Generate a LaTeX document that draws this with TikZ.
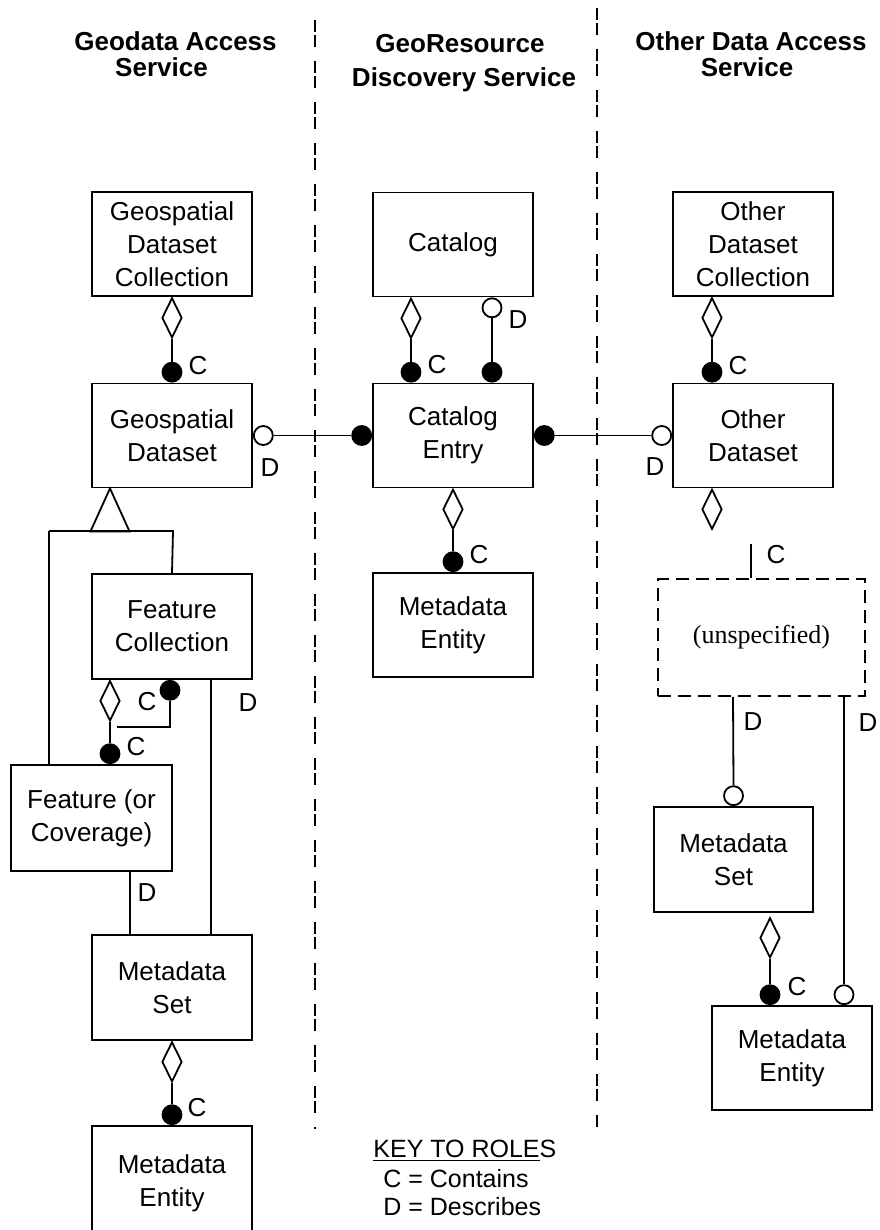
\documentclass[tikz,border=0pt]{standalone}
\usepackage{fontspec}
\setmainfont{Liberation Sans}
\newfontfamily\serifun{Liberation Serif}
\usetikzlibrary{shapes.geometric,calc}
\begin{document}
\begin{tikzpicture}[x=0.5pt,y=-0.5pt,
  every node/.style={font=\fontsize{13}{16.5}\selectfont},
  box/.style={draw,line width=0.9pt,rectangle,minimum width=80pt,minimum height=52pt,align=center,inner sep=0pt},
  dia/.style={draw,line width=0.9pt,diamond,minimum width=10pt,minimum height=20pt,inner sep=0pt,fill=white},
  fdot/.style={circle,fill=black,draw=black,line width=0.9pt,minimum size=9.5pt,inner sep=0pt},
  odot/.style={circle,fill=white,draw=black,line width=0.9pt,minimum size=9.5pt,inner sep=0pt},
  lab/.style={inner sep=0pt},
  hdr/.style={font=\bfseries\fontsize{13}{13}\selectfont,anchor=base,inner sep=0pt},
  keytxt/.style={font=\fontsize{12.5}{15}\selectfont,anchor=base west,inner sep=0pt},
  sep/.style={line width=0.9pt,dash pattern=on 6pt off 1.5pt on 6pt off 7pt},
  conn/.style={line width=0.9pt}
]
\useasboundingbox (0,0) rectangle (879,1230);
\clip (0,0) rectangle (879,1230);

% separators
\coordinate (s1t) at (315,20);
\coordinate (s1b) at (315,1129);
\coordinate (s2t) at (597,8);
\coordinate (s2b) at (597,1129);
\draw[sep] (s1t) -- (s1b);
\draw[sep] (s2t) -- (s2b);

% headers
\node[hdr] (h1a) at (175.5,51) {Geodata Access};
\node[hdr] (h1b) at (161.5,77) {Service};
\node[hdr] (h2a) at (460,53) {GeoResource};
\node[hdr] (h2b) at (464,87) {Discovery Service};
\node[hdr] (h3a) at (751,51) {Other Data Access};
\node[hdr] (h3b) at (747,77) {Service};

% boxes left
\node[box] (gdc) at (172,244) {Geospatial\\Dataset\\Collection};
\node[box] (gd) at (172,435.5) {Geospatial\\Dataset};
\node[box,minimum height=52.5pt] (fc) at (172,626.5) {Feature\\Collection};
\node[box,minimum width=80.5pt,minimum height=53pt] (feat) at (91.5,818) {Feature (or\\Coverage)};
\node[box,minimum height=52.5pt] (ms1) at (172,987.5) {Metadata\\Set};
\node[box,minimum height=57pt] (me1) at (172,1183) {Metadata\\Entity};

% boxes center
\node[box] (cat) at (453,244.5) {Catalog};
\node[box] (ce) at (453,435.5) {Catalog\\Entry};
\node[box] (me2) at (453,625) {Metadata\\Entity};

% boxes right
\node[box] (odc) at (753,244) {Other\\Dataset\\Collection};
\node[box] (od) at (753,435.5) {Other\\Dataset};
\node[box,dash pattern=on 6.5pt off 3.5pt,minimum width=103.5pt,minimum height=58.5pt,font=\serifun\fontsize{13}{16}\selectfont] (unsp) at (761.5,637.5) {(unspecified)};
\node[box,minimum width=79.5pt,minimum height=52.5pt] (ms3) at (733.5,859.5) {Metadata\\Set};
\node[box] (me3) at (792,1058) {Metadata\\Entity};

% GDC -> GD
\node[dia,anchor=north] (d1) at (gdc.south) {};
\node[fdot,anchor=south] (f1) at (gd.north) {};
\draw[conn] (d1.south) -- (f1.north);
\node[lab] (l1) at (198,366) {C};

% GD -> CE
\node[odot,anchor=west] (o1) at (gd.east) {};
\node[fdot,anchor=east] (f2) at (ce.west) {};
\draw[conn] (o1.east) -- (f2.west);
\node[lab] (l2) at (270,468) {D};

% generalization
\coordinate (tA) at ($(gd.south)+(-62,0)$);
\coordinate (tL) at ($(tA)+(-19.5,43)$);
\coordinate (tR) at ($(tA)+(19.5,43)$);
\coordinate (gL) at (49,531);
\coordinate (gR) at (173,531);
\draw[conn] (tA) -- (tL) -- (tR) -- cycle;
\draw[conn] (gL) -- (gR) -- (fc.north);
\draw[conn] (gL) -- (gL |- feat.north);

% FC -> Feature
\node[dia,anchor=north] (d2) at ($(fc.south)+(-62,0)$) {};
\node[fdot,anchor=south] (f3) at ($(feat.north)+(18.5,0)$) {};
\draw[conn] (d2.south) -- (f3.north);
\node[lab] (l3) at (136,747) {C};

% FC extra C
\node[fdot,anchor=north] (f4) at ($(fc.south)+(-2,0)$) {};
\coordinate (k1) at ($(f4.south)+(0,26)$);
\coordinate (k2) at ($(k1)+(-53,0)$);
\draw[conn] (f4.south) -- (k1) -- (k2);
\node[lab] (l4) at (147,702) {C};

% FC -> MS1
\draw[conn] ($(fc.south)+(39,0)$) -- ($(ms1.north)+(39,0)$);
\node[lab] (l5) at (248,703) {D};

% Feature -> MS1
\draw[conn] ($(feat.south)+(38.5,0)$) -- ($(ms1.north)+(-42,0)$);
\node[lab] (l6) at (147,893) {D};

% MS1 -> ME1
\node[dia,anchor=north] (d3) at (ms1.south) {};
\node[fdot,anchor=south] (f5) at (me1.north) {};
\draw[conn] (d3.south) -- (f5.north);
\node[lab] (l7) at (197,1108) {C};

% Catalog -> CE
\node[dia,anchor=north] (d4) at ($(cat.south)+(-42,0)$) {};
\node[fdot,anchor=south] (f6) at ($(ce.north)+(-42,0)$) {};
\draw[conn] (d4.south) -- (f6.north);
\node[lab] (l8) at (437,365) {C};
\node[odot,anchor=north] (o2) at ($(cat.south)+(39,0)$) {};
\node[fdot,anchor=south] (f7) at ($(ce.north)+(39,0)$) {};
\draw[conn] (o2.south) -- (f7.north);
\node[lab] (l9) at (518,320) {D};

% CE -> OD
\node[fdot,anchor=west] (f8) at (ce.east) {};
\node[odot,anchor=east] (o3) at (od.west) {};
\draw[conn] (f8.east) -- (o3.west);
\node[lab] (l10) at (655,467) {D};

% CE -> ME2
\node[dia,anchor=north] (d5) at (ce.south) {};
\node[fdot,anchor=south] (f9) at (me2.north) {};
\draw[conn] (d5.south) -- (f9.north);
\node[lab] (l11) at (479,555) {C};

% ODC -> OD
\node[dia,anchor=north] (d6) at ($(odc.south)+(-41,0)$) {};
\node[fdot,anchor=south] (f10) at ($(od.north)+(-41,0)$) {};
\draw[conn] (d6.south) -- (f10.north);
\node[lab] (l12) at (738,366) {C};

% OD -> unspecified
\node[dia,anchor=north] (d7) at ($(od.south)+(-41,0)$) {};
\coordinate (u1) at ($(unsp.north)+(-10.5,-34)$);
\draw[conn] (u1) -- (u1 |- unsp.north);
\node[lab] (l13) at (776,555) {C};

% unspecified -> MS3
\node[odot,anchor=south] (o4) at (ms3.north) {};
\draw[conn] ($(unsp.south)+(-28.5,0)$) -- (o4.north);
\node[lab] (l14) at (753,722) {D};

% unspecified -> ME3
\node[odot,anchor=south] (o5) at ($(me3.north)+(52,0)$) {};
\draw[conn] ($(unsp.south)+(82.5,0)$) -- (o5.north);
\node[lab] (l15) at (868,723) {D};

% MS3 -> ME3
\node[dia,anchor=north] (d8) at ($(ms3.south)+(36.5,4)$) {};
\node[fdot,anchor=south] (f11) at ($(me3.north)+(-22,0)$) {};
\draw[conn] (d8.south) -- (f11.north);
\node[lab] (l16) at (797,987) {C};

% key
\node[keytxt] (kt) at (373,1157) {\underline{KEY TO ROLE}S};
\node[keytxt] (kc) at (383,1187) {C = Contains};
\node[keytxt] (kd) at (383,1215) {D = Describes};
\end{tikzpicture}
\end{document}
